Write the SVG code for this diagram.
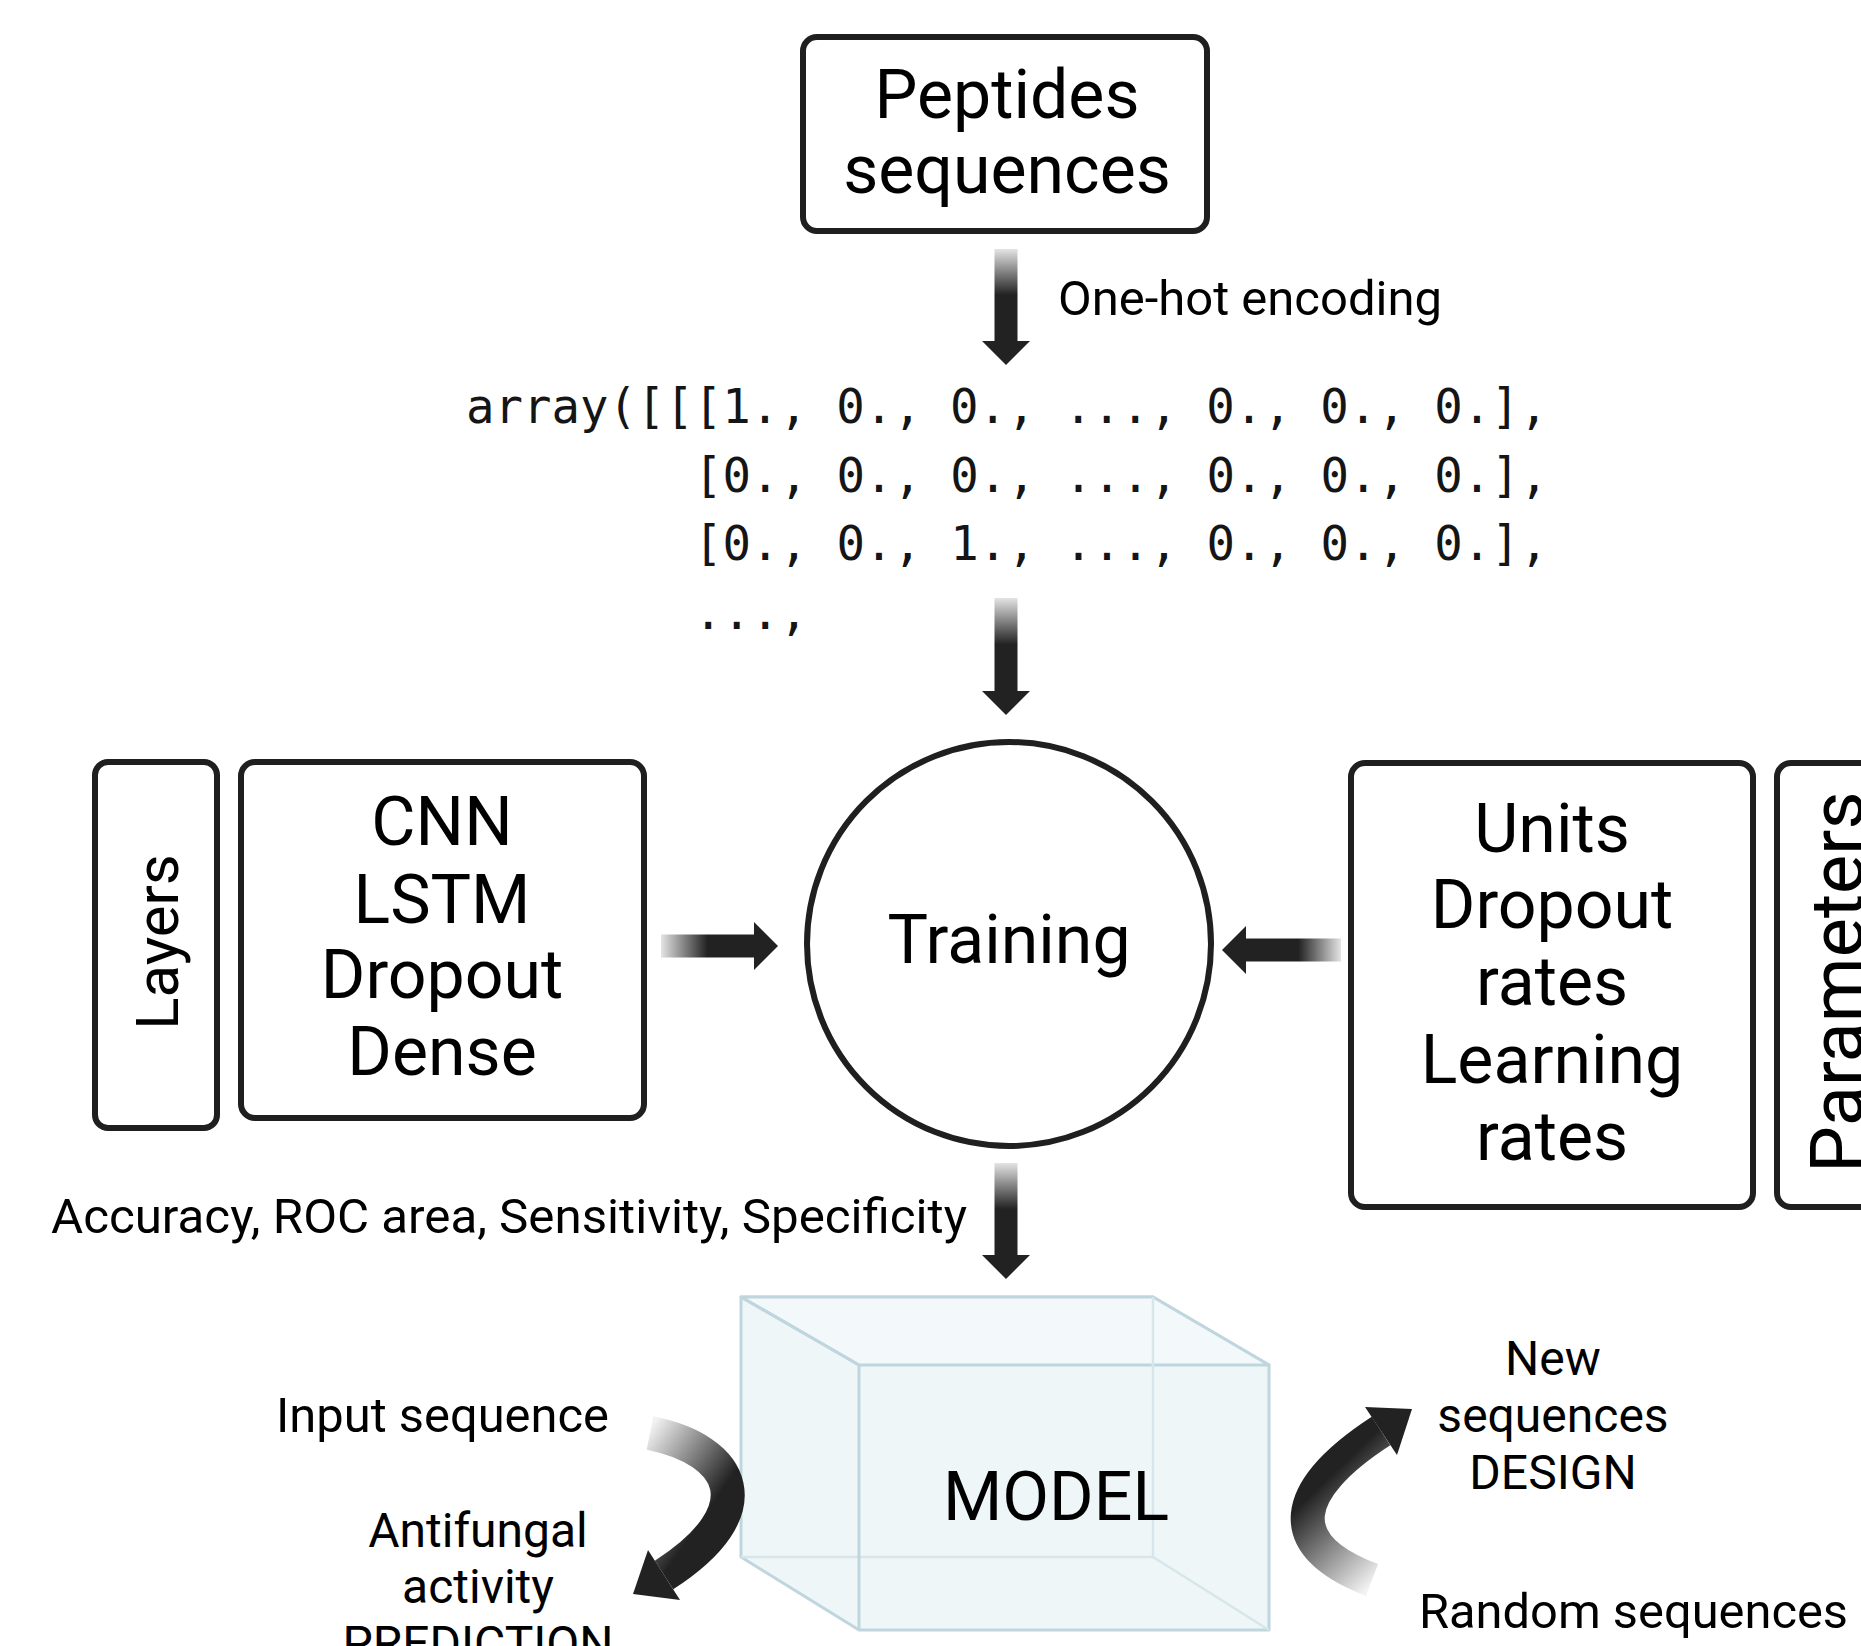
<svg xmlns="http://www.w3.org/2000/svg" width="1861" height="1646" viewBox="0 0 1861 1646">
<defs>
<style>
.box{fill:#fff;stroke:#1f1f1f;stroke-width:6}
.t{font-family:Roboto,'Liberation Sans',sans-serif;fill:#000}
.big{font-size:68px;text-anchor:middle}
.lbl{font-size:48px}
.mid{text-anchor:middle}
.mono{font-family:'DejaVu Sans Mono','Liberation Mono',monospace;font-size:47.3px;fill:#151515}
.head{fill:#222}
.cube{stroke:#bfd6de;stroke-width:3;stroke-linejoin:round}
.hid{fill:none;stroke:#d6e6eb;stroke-width:2.5}
</style>
<linearGradient id="gDown" x1="0" y1="0" x2="0" y2="1"><stop offset="0" stop-color="#e4e4e4"/><stop offset="0.5" stop-color="#222"/></linearGradient>
<linearGradient id="gRight" x1="0" y1="0" x2="1" y2="0"><stop offset="0" stop-color="#e4e4e4"/><stop offset="0.5" stop-color="#222"/></linearGradient>
<linearGradient id="gLeft" x1="1" y1="0" x2="0" y2="0"><stop offset="0" stop-color="#e4e4e4"/><stop offset="0.45" stop-color="#222"/></linearGradient>
<linearGradient id="gCurveL" gradientUnits="userSpaceOnUse" x1="650" y1="1428" x2="728" y2="1482"><stop offset="0" stop-color="#f2f2f2"/><stop offset="1" stop-color="#222"/></linearGradient>
<linearGradient id="gCurveR" gradientUnits="userSpaceOnUse" x1="1374" y1="1582" x2="1300" y2="1505"><stop offset="0" stop-color="#f2f2f2"/><stop offset="1" stop-color="#222"/></linearGradient>
</defs>
<rect width="1861" height="1646" fill="#fff"/>

<g id="peptides">
<rect class="box" x="803" y="37" width="404" height="194" rx="14"/>
<text class="t big" x="1007" y="118">Peptides</text>
<text class="t big" x="1007" y="193">sequences</text>
</g>

<g id="array">
<text class="mono" x="466" y="423">array([[[1., 0., 0., ..., 0., 0., 0.],</text>
<text class="mono" x="694" y="492">[0., 0., 0., ..., 0., 0., 0.],</text>
<text class="mono" x="694" y="560">[0., 0., 1., ..., 0., 0., 0.],</text>
<text class="mono" x="694" y="629">...,</text>
</g>

<g id="training">
<circle cx="1009" cy="944" r="202" fill="#fff" stroke="#1f1f1f" stroke-width="6"/>
<text class="t big" x="1009" y="963">Training</text>
</g>

<g id="layers-label">
<rect class="box" x="95" y="762" width="122" height="366" rx="13"/>
<text class="t mid" style="font-size:60px" transform="translate(178,942) rotate(-90)">Layers</text>
</g>

<g id="layers">
<rect class="box" x="241" y="762" width="403" height="356" rx="14"/>
<text class="t big" x="442" y="845">CNN</text>
<text class="t big" x="442" y="923">LSTM</text>
<text class="t big" x="442" y="998">Dropout</text>
<text class="t big" x="442" y="1075">Dense</text>
</g>

<g id="parameters">
<rect class="box" x="1351" y="763" width="402" height="444" rx="14"/>
<text class="t big" x="1552" y="852">Units</text>
<text class="t big" x="1552" y="928">Dropout</text>
<text class="t big" x="1552" y="1005">rates</text>
<text class="t big" x="1552" y="1083">Learning</text>
<text class="t big" x="1552" y="1160">rates</text>
</g>

<g id="parameters-label">
<rect class="box" x="1777" y="763" width="160" height="444" rx="14"/>
<text class="t mid" style="font-size:74px" transform="translate(1863,982) rotate(-90)">Parameters</text>
</g>

<g id="model">
<polygon points="741,1297 1153,1297 1269,1365 1269,1630 859,1630 741,1557" fill="#eff6f8" class="cube"/>
<polygon points="741,1297 1153,1297 1269,1365 859,1365" fill="#f3f9fa" class="cube"/>
<polyline class="hid" points="741,1557 1153,1557 1153,1297"/>
<line class="hid" x1="1153" y1="1557" x2="1269" y2="1630"/>
<polyline class="cube" fill="none" points="741,1297 859,1365 859,1630"/>
<text class="t big" x="1056" y="1520">MODEL</text>
</g>

<g id="connectors">
<rect x="994.5" y="249" width="23" height="92" fill="url(#gDown)"/>
<polygon class="head" points="982,341 1030,341 1006,365"/>
<rect x="994.5" y="598" width="23" height="93" fill="url(#gDown)"/>
<polygon class="head" points="982,691 1030,691 1006,715"/>
<rect x="994.5" y="1163" width="23" height="92" fill="url(#gDown)"/>
<polygon class="head" points="982,1255 1030,1255 1006,1279"/>
<rect x="661" y="934.5" width="93" height="23" fill="url(#gRight)"/>
<polygon class="head" points="754,922 754,970 778,946"/>
<rect x="1246" y="938.5" width="95" height="23" fill="url(#gLeft)"/>
<polygon class="head" points="1246,926 1246,974 1222,950"/>
<path d="M 650 1433 C 735 1450, 765 1510, 664 1575" fill="none" stroke="url(#gCurveL)" stroke-width="34"/>
<polygon class="head" points="648,1550 680,1600 633,1594"/>
<path d="M 1372 1580 C 1280 1545, 1290 1490, 1381 1431" fill="none" stroke="url(#gCurveR)" stroke-width="34"/>
<polygon class="head" points="1365,1407 1397,1455 1412,1409"/>
</g>

<g id="labels">
<text class="t lbl" x="1058" y="315" textLength="384" lengthAdjust="spacingAndGlyphs">One-hot encoding</text>
<text class="t lbl" x="51" y="1233" textLength="916" lengthAdjust="spacingAndGlyphs">Accuracy, ROC area, Sensitivity, Specificity</text>
<text class="t lbl" x="276" y="1432" textLength="333" lengthAdjust="spacingAndGlyphs">Input sequence</text>
<text class="t lbl mid" x="478" y="1547">Antifungal</text>
<text class="t lbl mid" x="478" y="1603">activity</text>
<text class="t lbl mid" x="478" y="1660">PREDICTION</text>
<text class="t lbl mid" x="1553" y="1375">New</text>
<text class="t lbl mid" x="1553" y="1432">sequences</text>
<text class="t lbl mid" x="1553" y="1489">DESIGN</text>
<text class="t lbl" x="1419" y="1628" textLength="429" lengthAdjust="spacingAndGlyphs">Random sequences</text>
</g>
</svg>
